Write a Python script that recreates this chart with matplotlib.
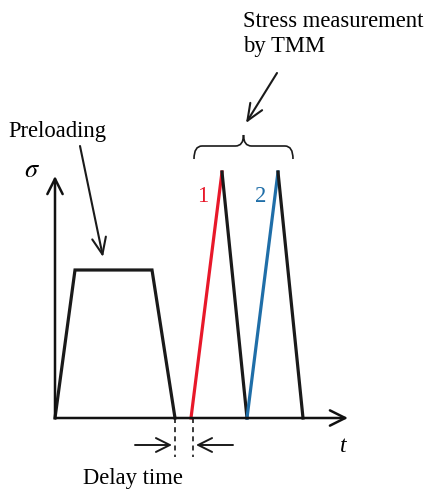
import matplotlib
matplotlib.use("Agg")
import matplotlib.pyplot as plt
from matplotlib.path import Path
from matplotlib.patches import PathPatch

# ---- data (schematic units: 1 unit ~ 1 px) ----
preload_t = [0, 20, 97, 120]
preload_s = [0, 148, 148, 0]
load1_t = [136, 167]
load1_s = [0, 246]
unload1_t = [167, 192]
unload1_s = [246, 0]
load2_t = [192, 223]
load2_s = [0, 246]
unload2_t = [223, 248]
unload2_s = [246, 0]
delay_start, delay_end = 120, 138

t_axis_end = 293
s_axis_end = 242

RED = "#e8182a"
BLUE = "#1f6ea8"
serif = ["Liberation Serif", "DejaVu Serif"]
plt.rcParams["mathtext.fontset"] = "stix"

fig = plt.figure(figsize=(4.26, 4.90), dpi=100)
ax = fig.add_axes([0, 0, 1, 1])
ax.set_xlim(-55, 371)
ax.set_ylim(-72, 418)
ax.axis("off")

# axes arrows
arrowkw = dict(arrowstyle="->,head_length=1.1,head_width=0.55", lw=1.8, color="#111111",
               shrinkA=0, shrinkB=0)
ax.annotate("", xy=(t_axis_end, 0), xytext=(0, 0), arrowprops=arrowkw)
ax.annotate("", xy=(0, s_axis_end), xytext=(0, 0), arrowprops=arrowkw)

# profile
blk = "#1a1a1a"
ax.plot(preload_t, preload_s, color=blk, lw=2.3, solid_joinstyle="miter")
ax.plot(load1_t, load1_s, color=RED, lw=2.3)
ax.plot(unload1_t, unload1_s, color=blk, lw=2.3)
ax.plot(load2_t, load2_s, color=BLUE, lw=2.3)
ax.plot(unload2_t, unload2_s, color=blk, lw=2.3)

# delay markers
for x in (delay_start, delay_end):
    ax.plot([x, x], [0, -39], color=blk, lw=1.2, ls=(0, (3, 2.5)))
darrow = dict(arrowstyle="->,head_length=1.0,head_width=0.5", lw=1.4, color=blk,
              shrinkA=0, shrinkB=0)
ax.annotate("", xy=(delay_start - 3, -27), xytext=(delay_start - 40, -27), arrowprops=darrow)
ax.annotate("", xy=(delay_end + 3, -27), xytext=(delay_end + 40, -27), arrowprops=darrow)

# labels
ax.text(-23, 248, r"$\sigma$", fontsize=19, ha="center", va="center")
ax.text(288, -28, "t", fontsize=17, ha="center", va="center", family=serif, style="italic")
ax.text(78, -60, "Delay time", fontsize=16.3, ha="center", va="center", family=serif)
ax.text(-47, 287, "Preloading", fontsize=16.3, ha="left", va="center", family=serif)
ax.text(188, 384, "Stress measurement\nby TMM", fontsize=16.3, ha="left", va="center",
        family=serif, linespacing=1.25)
ax.text(148, 221, "1", fontsize=16.3, ha="center", va="center", family=serif, color=RED)
ax.text(206, 221, "2", fontsize=16.3, ha="center", va="center", family=serif, color=BLUE)

# pointer arrows
parrow = dict(arrowstyle="->,head_length=1.2,head_width=0.5", lw=1.5, color=blk,
              shrinkA=0, shrinkB=0)
ax.annotate("", xy=(48, 161), xytext=(25, 272), arrowprops=parrow)
ax.annotate("", xy=(191, 295), xytext=(222, 345), arrowprops=parrow)

# brace
x0, x1 = 139, 238
xm = (x0 + x1) / 2
yb, yl, yt = 259, 272, 283
r = 8
verts = [(x0, yb), (x0, yl), (x0 + r, yl), (x0 + r, yl),
         (xm - r, yl), (xm - r, yl), (xm, yl), (xm, yt),
         (xm, yl), (xm + r, yl), (xm + r, yl),
         (x1 - r, yl), (x1 - r, yl), (x1, yl), (x1, yb)]
codes = [Path.MOVETO, Path.CURVE3, Path.CURVE3, Path.LINETO,
         Path.LINETO, Path.LINETO, Path.CURVE3, Path.CURVE3,
         Path.CURVE3, Path.CURVE3, Path.LINETO,
         Path.LINETO, Path.LINETO, Path.CURVE3, Path.CURVE3]
ax.add_patch(PathPatch(Path(verts, codes), fill=False, lw=1.2, color=blk))

fig.savefig("out.png", dpi=100)
